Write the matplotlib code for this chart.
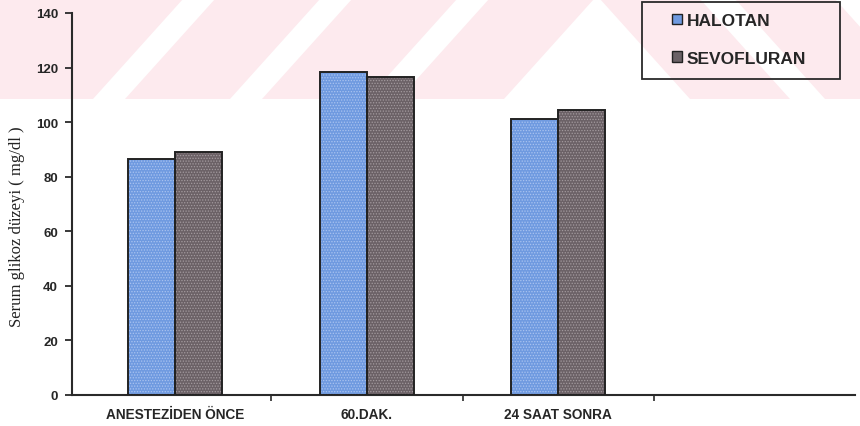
import matplotlib
matplotlib.use('Agg')
import matplotlib.pyplot as plt
import matplotlib.patches as mpatches
import numpy as np

# ---- data ----
categories = ['ANESTEZİDEN ÖNCE', '60.DAK.', '24 SAAT SONRA']
series_names = ['HALOTAN', 'SEVOFLURAN']
halotan = [86.5, 118.5, 101.0]
sevofluran = [89.0, 116.5, 104.5]
y_ticks = [0, 20, 40, 60, 80, 100, 120, 140]
y_label = 'Serum glikoz düzeyi ( mg/dl )'

# ---- styles ----
W, H = 860, 427
BLUE = '#6f9ae0'
BLUE_DOT = '#a9c3f0'
DARK = '#6b6166'
DARK_DOT = '#a39a9e'
EDGE = '#222222'
SANS = ['Liberation Sans', 'DejaVu Sans']
SERIF = ['Liberation Serif', 'DejaVu Serif']

plt.rcParams['hatch.linewidth'] = 0.6

fig = plt.figure(figsize=(W / 100, H / 100), dpi=100)
fig.patch.set_facecolor('white')


def fp(x, y):
    return (x / W, 1 - y / H)


# ---- background watermark (decoration) ----
PINK = '#fdeaee'
slash_left = [-100] + [125 + 137 * i for i in range(3)]
slash_right = [93 + 137 * i for i in range(4)]
for l, r in zip(slash_left, slash_right):
    poly = [fp(l, 100), fp(r, 100), fp(r + 90, 0), fp(l + 90, 0)]
    fig.patches.append(mpatches.Polygon(poly, closed=True, transform=fig.transFigure,
                                        facecolor=PINK, edgecolor='none', zorder=-5))
for l in [600, 735]:
    r = l + 100
    poly = [fp(l, 0), fp(r, 0), fp(r + 90, 100), fp(l + 90, 100)]
    fig.patches.append(mpatches.Polygon(poly, closed=True, transform=fig.transFigure,
                                        facecolor=PINK, edgecolor='none', zorder=-5))

# ---- axes ----
ax = fig.add_axes([72 / W, 1 - 396 / H, 783 / W, 382 / H])
ax.set_facecolor('none')
ax.set_xlim(-0.54, 3.55)
ax.set_ylim(0, 140)

x = np.arange(len(categories))
w = 0.245
for vals, off, fc, dc in [(halotan, -w / 2, BLUE, BLUE_DOT), (sevofluran, w / 2, DARK, DARK_DOT)]:
    ax.bar(x + off, vals, w, color=fc, edgecolor='none', zorder=2)
    ax.bar(x + off, vals, w, color='none', edgecolor=dc, hatch='......', linewidth=0, zorder=3)
    ax.bar(x + off, vals, w, color='none', edgecolor=EDGE, linewidth=1.4, zorder=4)

for s in ['top', 'right']:
    ax.spines[s].set_visible(False)
for s in ['left', 'bottom']:
    ax.spines[s].set_color('#2a2a2a')
    ax.spines[s].set_linewidth(1.5)

ax.set_yticks(y_ticks)
ax.set_yticklabels([str(v) for v in y_ticks])
ax.tick_params(axis='y', direction='out', length=5, width=1.3, color='#2a2a2a', pad=5)
for t in ax.get_yticklabels():
    t.set_fontfamily(SANS)
    t.set_fontweight('bold')
    t.set_fontsize(9.5)
    t.set_color('#262626')

ax.set_xticks(x)
ax.set_xticklabels(categories)
ax.set_xticks([0.5, 1.5, 2.5], minor=True)
ax.tick_params(axis='x', which='major', length=0, pad=9)
ax.tick_params(axis='x', which='minor', direction='out', length=4, width=1.2, color='#2a2a2a')
for t in ax.get_xticklabels():
    t.set_fontfamily(SANS)
    t.set_fontweight('bold')
    t.set_fontsize(9.8)
    t.set_color('#262626')

fig.text(17 / W, 1 - 227 / H, y_label, rotation=90, ha='center', va='center',
         fontsize=12, family=SERIF, color='#222222')

# ---- legend ----
x0, y0, x1, y1 = 642, 3, 840, 80
fig.patches.append(mpatches.Rectangle(fp(x0, y1), (x1 - x0) / W, (y1 - y0) / H,
                                      transform=fig.transFigure, facecolor='none',
                                      edgecolor='#2a2a2a', linewidth=1.3, zorder=5))
handles = [mpatches.Patch(facecolor=BLUE, edgecolor=EDGE, linewidth=1.0),
           mpatches.Patch(facecolor=DARK, edgecolor=EDGE, linewidth=1.0)]
leg = fig.legend(handles, series_names, loc='upper left', bbox_to_anchor=fp(672, 14),
                 frameon=False, borderpad=0, borderaxespad=0, handlelength=0.55,
                 handleheight=0.55, handletextpad=0.3, labelspacing=1.3,
                 prop={'family': SANS, 'weight': 'bold', 'size': 12.5})
for t in leg.get_texts():
    t.set_color('#262626')

fig.savefig('out.png', dpi=100)
